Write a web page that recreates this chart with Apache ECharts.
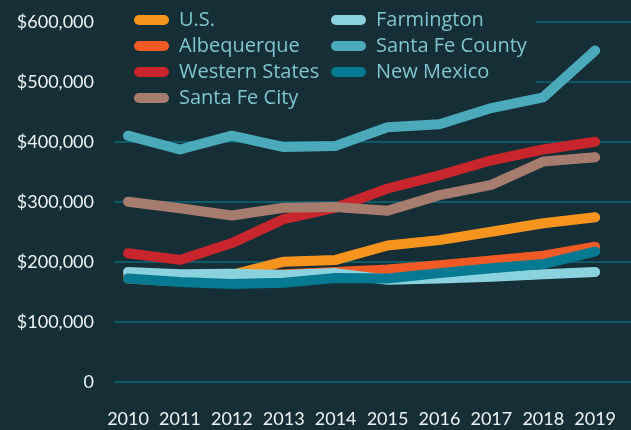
<!DOCTYPE html>
<html>
<head>
<meta charset="utf-8">
<script src="https://cdn.jsdelivr.net/npm/echarts@6/dist/echarts.min.js"></script>
<style>
  html, body { margin: 0; padding: 0; background: #162e36; }
  #main { width: 631px; height: 430px; }
</style>
</head>
<body>
<div id="main"></div>
<script>
// years on the x axis
let years = [2010, 2011, 2012, 2013, 2014, 2015, 2016, 2017, 2018, 2019]

// median home price
let us            = [172000, 167000, 178000, 200000, 203000, 227000, 236000, 250000, 264000, 274000]
let albequerque   = [177000, 176000, 177000, 179000, 183000, 187000, 194000, 202000, 210000, 225000]
let westernStates = [214000, 203000, 231000, 271000, 290000, 322000, 344000, 369000, 387000, 400000]
let santaFeCity   = [300000, 289000, 277000, 290000, 291000, 285000, 311000, 328000, 367000, 374000]
let farmington    = [183000, 179000, 180000, 178000, 181000, 170000, 172000, 175000, 179000, 183000]
let santaFeCounty = [410000, 387000, 410000, 391000, 393000, 424000, 429000, 456000, 474000, 552000]
let newMexico     = [172000, 166000, 163000, 165000, 173000, 172000, 181000, 189000, 196000, 217000]

let yTicks = [0, 100000, 200000, 300000, 400000, 500000, 600000]

let names  = ["U.S.", "Albequerque", "Western States", "Santa Fe City", "Farmington", "Santa Fe County", "New Mexico"]
let values = [us, albequerque, westernStates, santaFeCity, farmington, santaFeCounty, newMexico]
let colors = ["#f7941d", "#f15a24", "#c9252c", "#a67c6e", "#8ad3de", "#4aa9ba", "#057a92"]

let bg = "#162e36"
let font = "Lato"
let pill = "path://M5,0 L30,0 A5,5 0 0 1 30,10 L5,10 A5,5 0 0 1 5,0 Z"

function legendOf(list, left, padding) {
  return {
    orient: "vertical",
    left: left,
    top: 0,
    padding: padding,
    backgroundColor: bg,
    itemWidth: 35,
    itemHeight: 10,
    itemGap: 6,
    icon: pill,
    data: list,
    textStyle: { color: "#7ec6d0", fontSize: 20, lineHeight: 20, fontFamily: "Open Sans", padding: [0, 0, 0, 5] }
  }
}

let series = names.map((name, i) => ({
  name: name,
  type: "line",
  data: years.map((y, j) => [y, values[i][j]]),
  symbol: "none",
  itemStyle: { color: colors[i] },
  lineStyle: { width: 10, color: colors[i], cap: "round", join: "round" },
  emphasis: { disabled: true }
}))

var myChart = echarts.init(document.getElementById("main"))

var option = {
  backgroundColor: bg,
  animation: false,
  legend: [
    legendOf(names.slice(0, 4), 114, [10, 8, 8, 20]),
    legendOf(names.slice(4), 321, [10, 9, 8, 10])
  ],
  grid: { left: 114, right: 0, top: 21.7, bottom: 48.3 },
  xAxis: {
    type: "value",
    min: 2009.73,
    max: 2019.69,
    splitLine: { show: false },
    axisLine: { show: false },
    axisTick: { show: false },
    axisLabel: {
      customValues: years,
      formatter: v => String(v),
      color: "#eef3f4",
      fontSize: 18,
      fontFamily: font,
      margin: 28
    }
  },
  yAxis: {
    type: "value",
    min: 0,
    max: 600000,
    interval: 100000,
    axisLine: { show: false },
    axisTick: { show: false },
    splitLine: { lineStyle: { color: "#0b6a7a", width: 1.5 } },
    axisLabel: {
      formatter: v => v === 0 ? "0" : "$" + v.toLocaleString("en-US"),
      color: "#eef3f4",
      fontSize: 18,
      fontFamily: font,
      margin: 20
    }
  },
  series: series
}

myChart.setOption(option)
</script>
</body>
</html>
